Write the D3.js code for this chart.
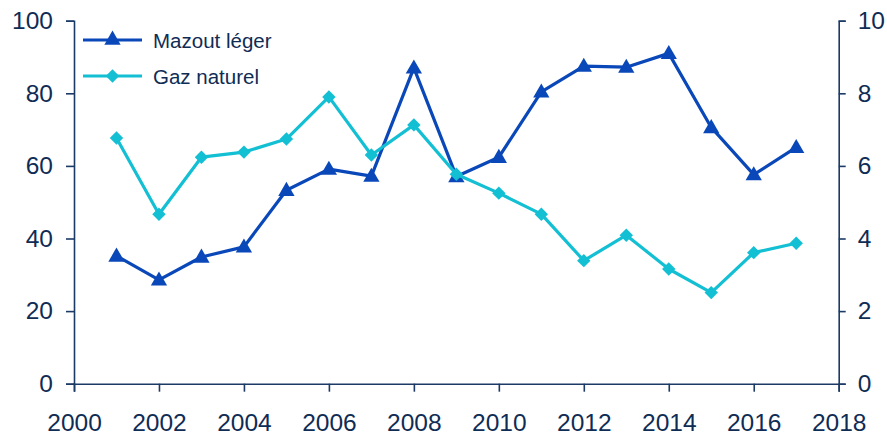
<!DOCTYPE html>
<html>
<head>
<meta charset="utf-8">
<script src="https://cdn.jsdelivr.net/npm/d3@7"></script>
<style>
  body { margin: 0; background: #fff; }
  svg { display: block; }
</style>
</head>
<body>
<div id="vis"></div>
<script>
// data
const years = [2001, 2002, 2003, 2004, 2005, 2006, 2007, 2008, 2009, 2010, 2011, 2012, 2013, 2014, 2015, 2016, 2017];
const mazout = [35.2, 28.6, 34.9, 37.7, 53.3, 59.1, 57.2, 87.0, 57.1, 62.4, 80.4, 87.5, 87.2, 91.0, 70.6, 57.6, 65.1];
const gaz = [6.77, 4.67, 6.24, 6.38, 6.74, 7.90, 6.30, 7.13, 5.77, 5.25, 4.67, 3.39, 4.09, 3.16, 2.51, 3.61, 3.87];
const xTicks = [2000, 2002, 2004, 2006, 2008, 2010, 2012, 2014, 2016, 2018];
const leftTicks = [0, 20, 40, 60, 80, 100];
const rightTicks = [0, 2, 4, 6, 8, 10];
const seriesNames = ["Mazout léger", "Gaz naturel"];

const width = 887, height = 436;
const font = "'Liberation Sans', Arial, Helvetica, sans-serif";
const axisColor = "#1b3a66";
const textColor = "#0f2c55";
const blue = "#0a48b9";
const cyan = "#13bfd3";

const svg = d3.select("#vis").append("svg")
    .attr("width", width)
    .attr("height", height);

const x = d3.scaleLinear().domain([2000, 2018]).range([74, 838.7]);
const yL = d3.scaleLinear().domain([0, 100]).range([383.7, 20.7]);
const yR = d3.scaleLinear().domain([0, 10]).range([383.7, 20.7]);

function styleAxis(g) {
    g.select(".domain").attr("stroke", axisColor).attr("stroke-width", 1.6);
    g.selectAll(".tick line").attr("stroke", axisColor).attr("stroke-width", 1.6);
    g.selectAll(".tick text")
        .attr("fill", textColor)
        .style("font-family", font)
        .style("font-size", "24.5px");
}

svg.append("g")
    .attr("transform", "translate(74,0)")
    .call(d3.axisLeft(yL).tickValues(leftTicks).tickSize(8).tickSizeOuter(8).tickPadding(13))
    .call(styleAxis);

svg.append("g")
    .attr("transform", "translate(838.7,0)")
    .call(d3.axisRight(yR).tickValues(rightTicks).tickSize(7).tickSizeOuter(7).tickPadding(12))
    .call(styleAxis);

svg.append("g")
    .attr("transform", "translate(0,383.7)")
    .call(d3.axisBottom(x).tickValues(xTicks).tickFormat(d3.format("d")).tickSize(8).tickSizeOuter(8).tickPadding(22))
    .call(styleAxis);

const line = d3.line();
const tri = d3.symbol().type(d3.symbolTriangle).size(115);
const dia = d3.symbol().type(d3.symbolSquare).size(90);

// Mazout léger (left axis)
const mPts = years.map((yr, i) => [x(yr), yL(mazout[i])]);
svg.append("path")
    .attr("d", line(mPts))
    .attr("fill", "none")
    .attr("stroke", blue)
    .attr("stroke-width", 3.2)
    .attr("stroke-linejoin", "round");

svg.append("g").selectAll("path")
    .data(mPts)
    .join("path")
    .attr("d", tri)
    .attr("transform", d => `translate(${d[0]},${d[1] + 1})`)
    .attr("fill", blue);

// Gaz naturel (right axis)
const gPts = years.map((yr, i) => [x(yr), yR(gaz[i])]);
svg.append("path")
    .attr("d", line(gPts))
    .attr("fill", "none")
    .attr("stroke", cyan)
    .attr("stroke-width", 3.2)
    .attr("stroke-linejoin", "round");

svg.append("g").selectAll("path")
    .data(gPts)
    .join("path")
    .attr("d", dia)
    .attr("transform", d => `translate(${d[0]},${d[1]}) rotate(45)`)
    .attr("fill", cyan);

// legend
const legend = [
    { name: seriesNames[0], color: blue, sym: tri, rot: 0, y: 40 },
    { name: seriesNames[1], color: cyan, sym: dia, rot: 45, y: 76 }
];
legend.forEach(d => {
    svg.append("line")
        .attr("x1", 83).attr("x2", 142)
        .attr("y1", d.y).attr("y2", d.y)
        .attr("stroke", d.color)
        .attr("stroke-width", 3.2);
    svg.append("path")
        .attr("d", d.sym)
        .attr("transform", `translate(112.5,${d.y}) rotate(${d.rot})`)
        .attr("fill", d.color);
    svg.append("text")
        .attr("x", 153)
        .attr("y", d.y + 7.5)
        .attr("fill", textColor)
        .style("font-family", font)
        .style("font-size", "20.5px")
        .text(d.name);
});
</script>
</body>
</html>
